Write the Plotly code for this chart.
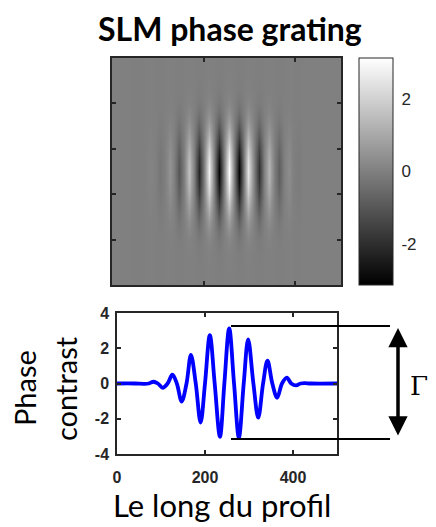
import plotly.graph_objects as go

# ---- Data ----
profile_x = [0, 40, 62, 72, 83, 93, 104, 115, 126, 136, 147, 158, 168, 179, 190, 200,
             211, 222, 234, 244, 255, 266, 277, 288, 298, 310, 321, 332, 342, 353, 364,
             375, 386, 396, 407, 417, 427, 440, 500]
profile_y = [0, 0, -0.02, 0, 0.1, 0, -0.24, 0, 0.5, 0, -1.02, 0, 1.62, 0, -2.22, 0,
             2.75, 0, -3.02, 0, 3.13, 0, -3.07, 0, 2.5, 0, -1.94, 0, 1.3, 0, -0.81,
             0, 0.33, 0, -0.11, 0, 0.02, 0, 0]

# vertical envelope of the grating image (relative)
env_y = [0, 70, 100, 120, 140, 160, 185, 205, 228, 250, 272, 295, 315, 340, 360, 380, 400, 430, 500]
env_v = [0, 0.02, 0.06, 0.13, 0.25, 0.4, 0.6, 0.78, 0.93, 1, 0.93, 0.78, 0.6, 0.4, 0.25, 0.13, 0.06, 0.02, 0]

cbar_ticks = [-2, 0, 2]
cbar_ticktext = ["-2", "0", "2"]
img_xticks = [200, 400]
img_yticks = [100, 200, 300, 400]
prof_xticks = [0, 200, 400]
prof_xticktext = ["0", "200", "400"]
prof_yticks = [-4, -2, 0, 2, 4]
prof_yticktext = ["-4", "-2", "0", "2", "4"]

PI = 3.14159
z = [[e * p for p in profile_y] for e in env_v]

# page body has an 8px default margin: the figure is sized and positioned to compensate
OFF = 8
W, H = 436 - OFF, 527 - OFF
def px(x):
    return (x - OFF) / W
def py(y):
    return 1 - (y - OFF) / H

AX = "#262626"

fig = go.Figure()
fig.add_trace(go.Heatmap(
    x=profile_x, y=env_y, z=z, zmin=-PI, zmax=PI, zsmooth="best",
    colorscale=[[0, "#000000"], [1, "#ffffff"]],
    xaxis="x", yaxis="y",
    colorbar=dict(
        x=px(359), xanchor="left", xref="paper", xpad=0, ypad=0,
        y=(py(58) + py(285)) / 2, yanchor="middle", len=(285 - 58) / H, lenmode="fraction",
        thickness=34, thicknessmode="pixels",
        outlinecolor=AX, outlinewidth=1,
        tickvals=cbar_ticks, ticktext=cbar_ticktext, ticks="outside", ticklen=5,
        tickcolor="rgba(0,0,0,0)",
        tickfont=dict(family="Liberation Sans, Arial", size=17, color=AX),
    ),
    hoverinfo="skip",
))
fig.add_trace(go.Scatter(
    x=profile_x, y=profile_y, mode="lines",
    line=dict(color="#0000FF", width=3.8, shape="spline", smoothing=1.0),
    xaxis="x2", yaxis="y2", showlegend=False, hoverinfo="skip",
))

common = dict(showgrid=False, zeroline=False, showline=True, linecolor=AX, linewidth=1.5,
              mirror="ticks", ticks="inside", ticklen=4, tickcolor=AX, tickwidth=1.5)
tfont = dict(family="Liberation Sans, Arial", size=16, color=AX, weight="bold")

fig.update_layout(
    width=W, height=H, margin=dict(l=0, r=0, t=0, b=0, autoexpand=False),
    paper_bgcolor="white", plot_bgcolor="white", showlegend=False,
    xaxis=dict(domain=[px(112), px(341)], range=[0, 500], anchor="y",
               tickvals=img_xticks, showticklabels=False, **common),
    yaxis=dict(domain=[py(285), py(58)], range=[500, 0], anchor="x",
               tickvals=img_yticks, showticklabels=False, **common),
    xaxis2=dict(domain=[px(117), px(337)], range=[0, 500], anchor="y2",
                tickvals=prof_xticks, ticktext=prof_xticktext, ticklabelstandoff=8,
                tickfont=tfont, **common),
    yaxis2=dict(domain=[py(454), py(313)], range=[-4, 4], anchor="x2",
                tickvals=prof_yticks, ticktext=prof_yticktext, ticklabelstandoff=3,
                tickfont=tfont, **common),
)

fig.add_annotation(text="<b>SLM phase grating</b>", x=px(230), y=py(28), xref="paper", yref="paper",
                   showarrow=False, xanchor="center", yanchor="middle",
                   font=dict(family="Lato", size=32, color="black"))
fig.add_annotation(text="Le long du profil", x=px(222), y=py(505), xref="paper", yref="paper",
                   showarrow=False, xanchor="center", yanchor="middle",
                   font=dict(family="Lato", size=31, color="black"))
fig.add_annotation(text="Phase", x=px(24), y=py(388), xref="paper", yref="paper",
                   showarrow=False, xanchor="center", yanchor="middle", textangle=-90,
                   font=dict(family="Lato", size=29, color="black"))
fig.add_annotation(text="contrast", x=px(65), y=py(388), xref="paper", yref="paper",
                   showarrow=False, xanchor="center", yanchor="middle", textangle=-90,
                   font=dict(family="Lato", size=29, color="black"))
fig.add_annotation(text="Γ", x=px(430), y=py(386), xref="paper", yref="paper",
                   showarrow=False, xanchor="right", yanchor="middle",
                   font=dict(family="DejaVu Serif", size=26, color="black"))
# double-headed arrow
fig.add_annotation(text="", x=px(398), y=py(328), xref="paper", yref="paper",
                   ax=0, ay=109, axref="pixel", ayref="pixel",
                   showarrow=True, arrowhead=2, startarrowhead=2, arrowside="end+start",
                   arrowsize=1.1, startarrowsize=1.1, arrowwidth=3.5, arrowcolor="black")

# reference lines marking the peak-to-peak amplitude
for yy in (326, 439):
    fig.add_shape(type="line", xref="paper", yref="paper",
                  x0=px(231), x1=px(390), y0=py(yy), y1=py(yy),
                  line=dict(color="black", width=2))
# faint diagonal artifact in the colorbar
fig.add_shape(type="line", xref="paper", yref="paper",
              x0=px(360), x1=px(393), y0=py(282), y1=py(68),
              line=dict(color="rgba(255,255,255,0.45)", width=1, dash="dot"))

fig.write_html("out.html")
